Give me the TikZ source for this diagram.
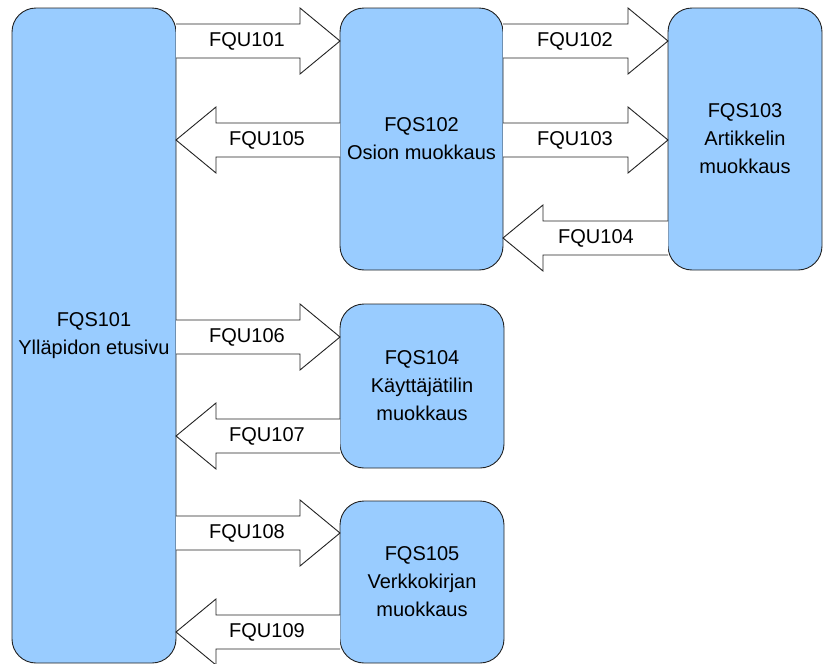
\documentclass[tikz,border=0pt]{standalone}
\usepackage{fontspec}
\setmainfont{Liberation Sans}
\definecolor{boxblue}{HTML}{99CCFF}
\definecolor{edge}{HTML}{222222}
\newcommand{\blockR}[5]{% tail x, tip x, centre y, label, label x
  \draw[blockarr] (#1,#3-17) -- (#2-40,#3-17) -- (#2-40,#3-33) -- (#2,#3) -- (#2-40,#3+33) -- (#2-40,#3+17) -- (#1,#3+17);
  \node[lbl] (#4) at (#5,#3) {#4};}
\newcommand{\blockL}[5]{% tip x, tail x, centre y, label, label x
  \draw[blockarr] (#2,#3-17) -- (#1+40,#3-17) -- (#1+40,#3-33) -- (#1,#3) -- (#1+40,#3+33) -- (#1+40,#3+17) -- (#2,#3+17);
  \node[lbl] (#4) at (#5,#3) {#4};}
\begin{document}
\begin{tikzpicture}[x=1pt,y=-1pt,
  box/.style={draw=edge, fill=boxblue, rounded corners=24pt, line width=0.9pt, inner sep=0pt, align=center, font=\fontsize{20}{28}\selectfont},
  blockarr/.style={draw=edge, fill=white, line width=0.9pt, line join=miter},
  lbl/.style={font=\fontsize{20}{24}\selectfont, inner sep=0pt}]
\useasboundingbox (0,0) rectangle (823,664);
\node[box, minimum width=164pt, minimum height=655pt] (s101) at (94,335.5) {FQS101\\Ylläpidon etusivu};
\node[box, minimum width=163pt, minimum height=262pt] (s102) at (421.5,139) {FQS102\\Osion muokkaus};
\node[box, minimum width=154pt, minimum height=262pt] (s103) at (745,139) {FQS103\\Artikkelin\\muokkaus};
\node[box, minimum width=164pt, minimum height=164pt] (s104) at (422,386) {FQS104\\Käyttäjätilin\\muokkaus};
\node[box, minimum width=164pt, minimum height=162pt] (s105) at (422,582) {FQS105\\Verkkokirjan\\muokkaus};
\blockR{176}{340}{41}{FQU101}{247}
\blockL{176}{340}{140}{FQU105}{267}
\blockR{503}{668}{41}{FQU102}{575}
\blockR{503}{668}{140}{FQU103}{575}
\blockL{503}{668}{238}{FQU104}{596}
\blockR{176}{340}{337}{FQU106}{247}
\blockL{176}{340}{436}{FQU107}{267}
\blockR{176}{340}{533}{FQU108}{247}
\blockL{176}{340}{632}{FQU109}{267}
\end{tikzpicture}
\end{document}
